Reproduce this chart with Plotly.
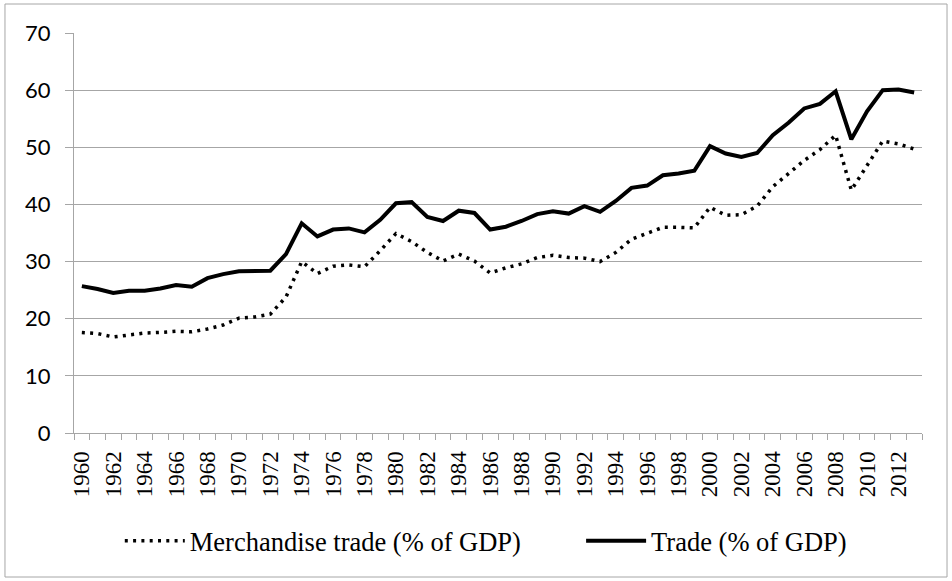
import plotly.graph_objects as go

years = [1960, 1961, 1962, 1963, 1964, 1965, 1966, 1967, 1968, 1969,
         1970, 1971, 1972, 1973, 1974, 1975, 1976, 1977, 1978, 1979,
         1980, 1981, 1982, 1983, 1984, 1985, 1986, 1987, 1988, 1989,
         1990, 1991, 1992, 1993, 1994, 1995, 1996, 1997, 1998, 1999,
         2000, 2001, 2002, 2003, 2004, 2005, 2006, 2007, 2008, 2009,
         2010, 2011, 2012, 2013]

trade = [25.7, 25.2, 24.5, 24.9, 24.9, 25.3, 25.9, 25.6, 27.1, 27.8,
         28.3, 28.3, 28.4, 31.3, 36.7, 34.4, 35.6, 35.8, 35.1, 37.3,
         40.2, 40.4, 37.8, 37.1, 38.9, 38.5, 35.6, 36.1, 37.1, 38.3,
         38.8, 38.4, 39.7, 38.7, 40.6, 42.9, 43.3, 45.1, 45.4, 45.9,
         50.2, 48.9, 48.3, 49.0, 52.1, 54.3, 56.8, 57.6, 59.8, 51.4,
         56.3, 60.0, 60.1, 59.6]

merch = [17.6, 17.4, 16.8, 17.1, 17.5, 17.6, 17.8, 17.7, 18.2, 18.9,
         20.1, 20.3, 20.8, 23.8, 30.0, 27.9, 29.2, 29.4, 29.1, 31.9,
         34.9, 33.5, 31.6, 30.1, 31.3, 30.1, 28.0, 28.9, 29.6, 30.7,
         31.1, 30.7, 30.6, 30.0, 31.6, 33.9, 35.0, 36.0, 36.0, 35.9,
         39.5, 38.1, 38.2, 39.7, 43.1, 45.5, 47.7, 49.6, 52.1, 42.5,
         46.8, 51.1, 50.6, 49.7]

label_years = years[::2]
y_ticks = [0, 10, 20, 30, 40, 50, 60, 70]

GRID = "#a6a6a6"
LEG_FONT = dict(family="Liberation Serif", size=26.5, color="black")

fig = go.Figure()
fig.add_trace(go.Scatter(
    x=years, y=merch, mode="lines", name="Merchandise trade (% of GDP)",
    line=dict(color="black", width=3.5, dash="3px,5.3px"),
    legend="legend",
))
fig.add_trace(go.Scatter(
    x=years, y=trade, mode="lines", name="Trade (% of GDP)",
    line=dict(color="black", width=4),
    legend="legend2",
))

fig.update_layout(
    width=952, height=581,
    margin=dict(l=74, r=30, t=33, b=148),
    plot_bgcolor="white", paper_bgcolor="white",
    showlegend=True,
    legend=dict(
        orientation="h", x=0.054, xanchor="left", y=-0.27, yanchor="middle",
        font=LEG_FONT, itemwidth=60, bgcolor="rgba(0,0,0,0)",
    ),
    legend2=dict(
        orientation="h", x=0.598, xanchor="left", y=-0.27, yanchor="middle",
        font=LEG_FONT, itemwidth=60, bgcolor="rgba(0,0,0,0)",
    ),
    xaxis=dict(
        range=[years[0] - 0.5, years[-1] + 0.5],
        tickmode="array", tickvals=label_years,
        ticktext=[str(y) for y in label_years],
        tickangle=-90,
        ticks="outside", ticklen=8, tickcolor="rgba(0,0,0,0)",
        tickfont=dict(family="Liberation Serif", size=23, color="black"),
        showgrid=False, zeroline=False,
        showline=True, linecolor=GRID, linewidth=1,
        minor=dict(ticks="outside", ticklen=6, tickcolor=GRID,
                   tick0=years[0] - 0.5, dtick=1, showgrid=False),
    ),
    yaxis=dict(
        range=[0, 70], tickmode="array", tickvals=y_ticks,
        ticks="outside", ticklen=8, tickcolor=GRID,
        tickfont=dict(family="Lato", size=22, color="black"),
        showgrid=True, gridcolor=GRID, gridwidth=1,
        zeroline=False, showline=True, linecolor=GRID, linewidth=1,
        ticklabelstandoff=10,
    ),
)

fig.add_shape(type="rect", xref="paper", yref="paper",
              x0=-0.0814, x1=1.0295, y0=-0.36, y1=1.0725,
              line=dict(color=GRID, width=1), fillcolor="rgba(0,0,0,0)",
              layer="above")

fig.write_html("out.html",
               config={"displayModeBar": False},
               post_script="document.body.style.margin='0';")
